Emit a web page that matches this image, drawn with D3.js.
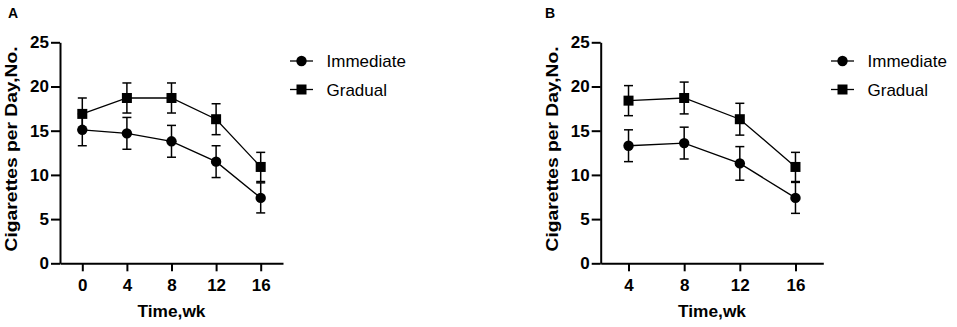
<!DOCTYPE html>
<html>
<head>
<meta charset="utf-8">
<script src="https://cdn.jsdelivr.net/npm/d3@7"></script>
<style>
  body { margin: 0; background: #fff; }
  svg { display: block; font-family: "Liberation Sans", Arial, sans-serif; }
</style>
</head>
<body>
<svg id="chart" width="957" height="327"></svg>
<script>
// panel A: weeks 0-16
const weeksA = [0, 4, 8, 12, 16];
const immediateA = [15.1, 14.7, 13.8, 11.5, 7.4];
const immediateErrA = [1.8, 1.8, 1.8, 1.8, 1.7];
const gradualA = [16.9, 18.7, 18.7, 16.3, 10.9];
const gradualErrA = [1.8, 1.7, 1.7, 1.75, 1.65];

// panel B: weeks 4-16
const weeksB = [4, 8, 12, 16];
const immediateB = [13.3, 13.6, 11.3, 7.4];
const immediateErrB = [1.8, 1.8, 1.9, 1.75];
const gradualB = [18.4, 18.7, 16.3, 10.9];
const gradualErrB = [1.7, 1.8, 1.8, 1.65];

const yTicks = [0, 5, 10, 15, 20, 25];
const seriesNames = ["Immediate", "Gradual"];

const svg = d3.select("#chart");

function panel(opts) {
	const g = svg.append("g");
	const x = d3.scaleLinear().domain(opts.xDomain).range([opts.left, opts.right]);
	const y = d3.scaleLinear().domain([0, 25]).range([263.3, 42.3]);

	// panel letter
	g.append("text")
		.attr("x", opts.letterX)
		.attr("y", 17.5)
		.style("font-size", "14px")
		.style("font-weight", "bold")
		.text(opts.letter);

	// axes
	const yAxis = g.append("g")
		.attr("transform", "translate(" + opts.left + ",0)")
		.call(d3.axisLeft(y).tickValues(yTicks).tickSize(9).tickPadding(2).tickSizeOuter(0));
	const xAxis = g.append("g")
		.attr("transform", "translate(0," + y(0) + ")")
		.call(d3.axisBottom(x).tickValues(opts.weeks).tickSize(8).tickPadding(8).tickSizeOuter(0));

	[xAxis, yAxis].forEach(ax => {
		ax.selectAll("path").style("stroke", "#000").style("stroke-width", "2px");
		ax.selectAll("line").style("stroke", "#000").style("stroke-width", "2px");
		ax.selectAll("text")
			.style("font-size", "17px")
			.style("font-weight", "bold")
			.style("font-family", "Liberation Sans, Arial, sans-serif")
			.style("fill", "#000");
	});

	// axis titles
	g.append("text")
		.attr("x", (opts.left + opts.right) / 2)
		.attr("y", 316.5)
		.attr("text-anchor", "middle")
		.attr("textLength", 68)
		.attr("lengthAdjust", "spacingAndGlyphs")
		.style("font-size", "16.5px")
		.style("font-weight", "bold")
		.text("Time,wk");

	g.append("text")
		.attr("transform", "translate(" + (opts.left - 43) + "," + 149 + ") rotate(-90)")
		.attr("text-anchor", "middle")
		.attr("textLength", 205)
		.attr("lengthAdjust", "spacingAndGlyphs")
		.style("font-size", "16.5px")
		.style("font-weight", "bold")
		.text("Cigarettes per Day,No.");

	const line = d3.line().x(d => x(d.w)).y(d => y(d.v));
	const series = [
		{ name: seriesNames[0], shape: "circle", vals: opts.imm, errs: opts.immErr },
		{ name: seriesNames[1], shape: "square", vals: opts.grad, errs: opts.gradErr }
	];

	series.forEach(s => {
		const pts = opts.weeks.map((w, i) => ({ w: w, v: s.vals[i], e: s.errs[i] }));

		// error bars
		const eb = g.append("g");
		pts.forEach(p => {
			eb.append("line")
				.attr("x1", x(p.w)).attr("x2", x(p.w))
				.attr("y1", y(p.v - p.e)).attr("y2", y(p.v + p.e));
			[p.v - p.e, p.v + p.e].forEach(v => {
				eb.append("line")
					.attr("x1", x(p.w) - 4.5).attr("x2", x(p.w) + 4.5)
					.attr("y1", y(v)).attr("y2", y(v));
			});
		});
		eb.selectAll("line").style("stroke", "#000").style("stroke-width", "1.5px");

		g.append("path")
			.datum(pts)
			.attr("d", line)
			.style("fill", "none")
			.style("stroke", "#000")
			.style("stroke-width", "1.3px");

		drawMarkers(g, pts.map(p => [x(p.w), y(p.v)]), s.shape);
	});

	// legend
	series.forEach((s, i) => {
		const ly = 61 + i * 28.5;
		g.append("line")
			.attr("x1", opts.legX).attr("x2", opts.legX + 23)
			.attr("y1", ly).attr("y2", ly)
			.style("stroke", "#000")
			.style("stroke-width", "1.3px");
		drawMarkers(g, [[opts.legX + 11.5, ly]], s.shape);
		g.append("text")
			.attr("x", opts.legX + 36.5)
			.attr("y", ly + 6)
			.style("font-size", "17px")
			.text(s.name);
	});
}

function drawMarkers(g, coords, shape) {
	if (shape == "circle") {
		g.selectAll(null).data(coords).enter().append("circle")
			.attr("cx", d => d[0]).attr("cy", d => d[1]).attr("r", 5.2)
			.style("fill", "#000");
	}
	else {
		g.selectAll(null).data(coords).enter().append("rect")
			.attr("x", d => d[0] - 5).attr("y", d => d[1] - 5)
			.attr("width", 10).attr("height", 10)
			.style("fill", "#000");
	}
}

panel({
	letter: "A", letterX: 8,
	xDomain: [-2, 18], left: 60, right: 283,
	weeks: weeksA,
	imm: immediateA, immErr: immediateErrA,
	grad: gradualA, gradErr: gradualErrA,
	legX: 290
});

panel({
	letter: "B", letterX: 545,
	xDomain: [2, 18], left: 600.7, right: 823.3,
	weeks: weeksB,
	imm: immediateB, immErr: immediateErrB,
	grad: gradualB, gradErr: gradualErrB,
	legX: 831
});
</script>
</body>
</html>
